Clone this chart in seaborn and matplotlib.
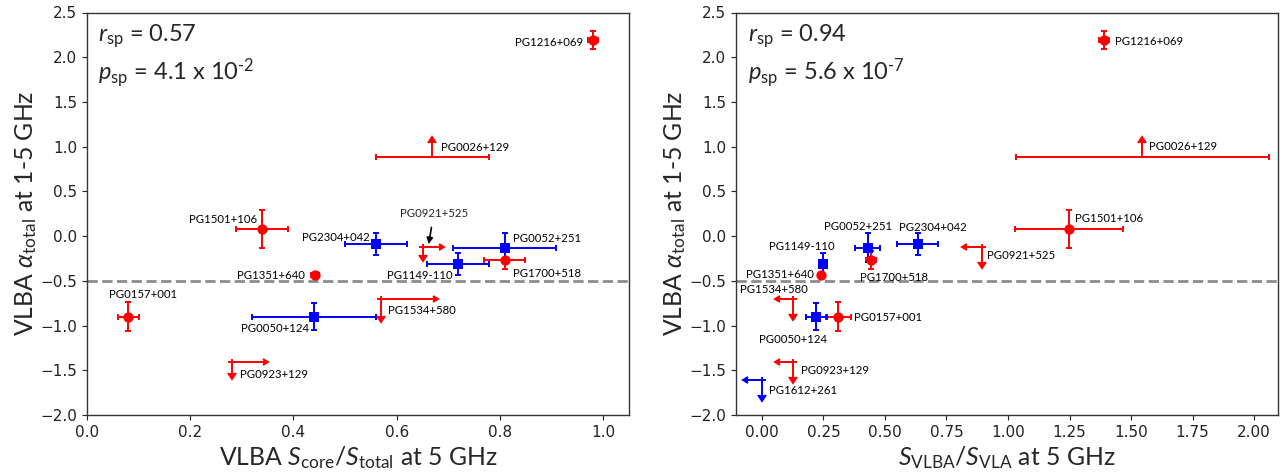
import matplotlib
matplotlib.use("Agg")
import matplotlib.pyplot as plt
import matplotlib.ticker as mticker
import seaborn as sns

# ---------------- data: left panel (VLBA S_core/S_total) ----------------
L_red_names = ["PG1216+069", "PG1501+106", "PG1700+518", "PG1351+640", "PG0157+001"]
L_red_x = [0.980, 0.339, 0.809, 0.441, 0.080]
L_red_xerr = [0.010, 0.050, 0.040, 0.008, 0.020]
L_red_y = [2.19, 0.08, -0.27, -0.43, -0.90]
L_red_yerr = [0.10, 0.21, 0.10, 0.02, 0.165]

L_blue_names = ["PG2304+042", "PG0052+251", "PG1149-110", "PG0050+124"]
L_blue_x = [0.559, 0.809, 0.719, 0.440]
L_blue_xerr = [0.060, 0.100, 0.060, 0.120]
L_blue_y = [-0.09, -0.13, -0.31, -0.90]
L_blue_yerr = [0.12, 0.16, 0.12, 0.15]

# lower limit in alpha (arrow up)
L_up_names = ["PG0026+129"]
L_up_x = [0.669]
L_up_xerr = [0.110]
L_up_y = [0.89]
L_up_yerr = [0.15]

# lower limit in x (arrow right), upper limit in alpha (arrow down)
L_lim_names = ["PG0921+525", "PG1534+580", "PG0923+129"]
L_lim_x = [0.650, 0.569, 0.280]
L_lim_xerr = [0.032, 0.102, 0.060]
L_lim_y = [-0.12, -0.70, -1.41]
L_lim_yerr = [0.09, 0.19, 0.12]

# ---------------- data: right panel (S_VLBA/S_VLA) ----------------
R_red_names = ["PG1216+069", "PG1501+106", "PG1700+518", "PG1351+640", "PG0157+001"]
R_red_x = [1.391, 1.247, 0.444, 0.241, 0.311]
R_red_xerr = [0.020, 0.220, 0.020, 0.010, 0.050]
R_red_y = [2.19, 0.08, -0.27, -0.43, -0.90]
R_red_yerr = [0.10, 0.21, 0.10, 0.02, 0.165]

R_blue_names = ["PG2304+042", "PG0052+251", "PG1149-110", "PG0050+124"]
R_blue_x = [0.633, 0.430, 0.249, 0.221]
R_blue_xerr = [0.083, 0.050, 0.015, 0.042]
R_blue_y = [-0.09, -0.13, -0.31, -0.90]
R_blue_yerr = [0.12, 0.16, 0.12, 0.15]

R_up_names = ["PG0026+129"]
R_up_x = [1.546]
R_up_xerr = [0.513]
R_up_y = [0.89]
R_up_yerr = [0.15]

# upper limit in x (arrow left), upper limit in alpha (arrow down)
R_lim_red_names = ["PG0921+525", "PG1534+580", "PG0923+129"]
R_lim_red_x = [0.895, 0.128, 0.128]
R_lim_red_xerr = [0.060, 0.054, 0.056]
R_lim_red_y = [-0.12, -0.70, -1.405]
R_lim_red_yerr = [0.17, 0.17, 0.17]

R_lim_blue_names = ["PG1612+261"]
R_lim_blue_x = [0.0]
R_lim_blue_xerr = [0.056]
R_lim_blue_y = [-1.61]
R_lim_blue_yerr = [0.17]

L_stats = ("0.57", r"4.1 x 10$^{\text{-2}}$")
R_stats = ("0.94", r"5.6 x 10$^{\text{-7}}$")

# ---------------- label placement (offset pixels, alignment) ----------------
L_LABELS = {
    "PG1216+069": (-10, -2, "right"), "PG0026+129": (9, 9, "left"),
    "PG1501+106": (-5, 9, "right"), "PG2304+042": (-6, 7, "right"),
    "PG0052+251": (8, 9, "left"), "PG1351+640": (-10, -1, "right"),
    "PG1149-110": (-38, -12, "center"), "PG1700+518": (8, -13, "left"),
    "PG0157+001": (15, 22, "center"), "PG0050+124": (-39, -12, "center"),
    "PG1534+580": (7, -12, "left"), "PG0923+129": (8, -12, "left"),
}
R_LABELS = {
    "PG1216+069": (11, -1, "left"), "PG0026+129": (7, 10, "left"),
    "PG1501+106": (6, 10, "left"), "PG2304+042": (15, 17, "center"),
    "PG0052+251": (-10, 21, "center"), "PG1149-110": (-21, 17, "center"),
    "PG1351+640": (-7, 0, "right"), "PG1700+518": (23, -17, "center"),
    "PG0921+525": (5, -9, "left"), "PG1534+580": (-19, 9, "center"),
    "PG0050+124": (-23, -23, "center"), "PG0157+001": (16, -1, "left"),
    "PG0923+129": (8, -9, "left"), "PG1612+261": (7, -10, "left"),
}

sns.set_style("ticks")
plt.rcParams["font.family"] = ["Lato", "DejaVu Sans"]
plt.rcParams["mathtext.fontset"] = "custom"
plt.rcParams["mathtext.rm"] = "Lato"
plt.rcParams["mathtext.it"] = "Lato:italic"
plt.rcParams["mathtext.bf"] = "Lato:bold"

RED = "#ff0000"
BLUE = "#0000ff"
LBL_FS = 8.2
AX_FS = 17.8

fig = plt.figure(figsize=(12.82, 4.74), dpi=100)
axL = fig.add_axes([87 / 1282, 59 / 474, 542 / 1282, 402.5 / 474])
axR = fig.add_axes([736 / 1282, 59 / 474, 542 / 1282, 402.5 / 474])

eb = dict(fmt="none", elinewidth=1.4, capthick=1.4)


def points(ax, xs, ys, xerr, yerr, color, marker):
    ax.errorbar(xs, ys, xerr=xerr, yerr=yerr, color=color, ecolor=color,
                capsize=2.5, zorder=2, **eb)
    sns.scatterplot(x=xs, y=ys, ax=ax, color=color, marker=marker, s=55,
                    linewidth=0, zorder=3, legend=False)


def limits(ax, xs, ys, xerr, yerr, color, xlo, xup):
    ax.errorbar(xs, ys, xerr=xerr, xlolims=xlo, xuplims=xup, color=color, ecolor=color,
                capsize=2.2, zorder=2, **eb)
    ax.errorbar(xs, ys, yerr=yerr, uplims=True, color=color, ecolor=color,
                capsize=3.0, zorder=2, **eb)


def uplimit(ax, xs, ys, xerr, yerr, color):
    ax.errorbar(xs, ys, xerr=xerr, color=color, ecolor=color, capsize=2.5, zorder=2, **eb)
    ax.errorbar(xs, ys, yerr=yerr, lolims=True, color=color, ecolor=color,
                capsize=2.8, zorder=2, **eb)


def labels(ax, names, xs, ys, table):
    for n, x, y in zip(names, xs, ys):
        dx, dy, ha = table[n]
        ax.annotate(n, (x, y), xytext=(dx, dy), textcoords="offset pixels",
                    ha=ha, va="center", fontsize=LBL_FS, color="black")


# ---- left panel
axL.axhline(-0.5, color="#8c8c8c", ls="--", lw=2, zorder=1)
points(axL, L_red_x, L_red_y, L_red_xerr, L_red_yerr, RED, "o")
points(axL, L_blue_x, L_blue_y, L_blue_xerr, L_blue_yerr, BLUE, "s")
uplimit(axL, L_up_x, L_up_y, L_up_xerr, L_up_yerr, RED)
limits(axL, L_lim_x, L_lim_y, L_lim_xerr, L_lim_yerr, RED, True, False)
labels(axL, L_red_names, L_red_x, L_red_y, L_LABELS)
labels(axL, L_blue_names, L_blue_x, L_blue_y, L_LABELS)
labels(axL, L_up_names, L_up_x, L_up_y, L_LABELS)
labels(axL, L_lim_names[1:], L_lim_x[1:], L_lim_y[1:], L_LABELS)
axL.annotate(L_lim_names[0], (L_lim_x[0] + 0.012, L_lim_y[0] + 0.03), xytext=(5, 31),
             textcoords="offset pixels", ha="center", va="center", fontsize=LBL_FS,
             arrowprops=dict(arrowstyle="-|>", color="black", lw=1.2,
                             mutation_scale=9, shrinkA=4, shrinkB=0))
axL.set_xlim(0, 1.05)
axL.set_xlabel(r"VLBA $S_{\mathrm{core}}/S_{\mathrm{total}}$ at 5 GHz", fontsize=AX_FS, labelpad=3)
axL.xaxis.set_major_formatter(mticker.FuncFormatter(lambda v, pos: f"{v:.1f}"))

# ---- right panel
axR.axhline(-0.5, color="#8c8c8c", ls="--", lw=2, zorder=1)
points(axR, R_red_x, R_red_y, R_red_xerr, R_red_yerr, RED, "o")
points(axR, R_blue_x, R_blue_y, R_blue_xerr, R_blue_yerr, BLUE, "s")
uplimit(axR, R_up_x, R_up_y, R_up_xerr, R_up_yerr, RED)
limits(axR, R_lim_red_x, R_lim_red_y, R_lim_red_xerr, R_lim_red_yerr, RED, False, True)
limits(axR, R_lim_blue_x, R_lim_blue_y, R_lim_blue_xerr, R_lim_blue_yerr, BLUE, False, True)
labels(axR, R_red_names, R_red_x, R_red_y, R_LABELS)
labels(axR, R_blue_names, R_blue_x, R_blue_y, R_LABELS)
labels(axR, R_up_names, R_up_x, R_up_y, R_LABELS)
labels(axR, R_lim_red_names, R_lim_red_x, R_lim_red_y, R_LABELS)
labels(axR, R_lim_blue_names, R_lim_blue_x, R_lim_blue_y, R_LABELS)
axR.set_xlim(-0.105, 2.097)
axR.set_xticks([0.0, 0.25, 0.5, 0.75, 1.0, 1.25, 1.5, 1.75, 2.0])
axR.set_xlabel(r"$S_{\mathrm{VLBA}}/S_{\mathrm{VLA}}$ at 5 GHz", fontsize=AX_FS, labelpad=3)
axR.xaxis.set_major_formatter(mticker.FuncFormatter(lambda v, pos: f"{v:.2f}"))

for ax, (r, p), xoff in [(axL, L_stats, 0.02), (axR, R_stats, 0.023)]:
    ax.set_ylim(-2.0, 2.5)
    ax.set_yticks([-2.0, -1.5, -1.0, -0.5, 0.0, 0.5, 1.0, 1.5, 2.0, 2.5])
    ax.yaxis.set_major_formatter(mticker.FuncFormatter(
        lambda v, pos: f"{v:.1f}".replace("-", "\u2212")))
    ax.set_ylabel(r"VLBA $\alpha_{\mathrm{total}}$ at 1-5 GHz", fontsize=AX_FS, labelpad=1)
    ax.tick_params(axis="both", direction="out", length=3.5, width=0.8, colors="#222222",
                   labelsize=11)
    for s in ax.spines.values():
        s.set_color("#333333")
        s.set_linewidth(1.0)
    ax.text(xoff, 0.942, r"$r_{\mathrm{sp}}$ = " + r, transform=ax.transAxes,
            fontsize=17, va="center", ha="left")
    ax.text(xoff, 0.85, r"$p_{\mathrm{sp}}$ = " + p, transform=ax.transAxes,
            fontsize=17, va="center", ha="left")

for ax in (axL, axR):
    for t in ax.get_xticklabels() + ax.get_yticklabels():
        t.set_fontfamily("DejaVu Sans")

fig.savefig("out.png", dpi=100)
